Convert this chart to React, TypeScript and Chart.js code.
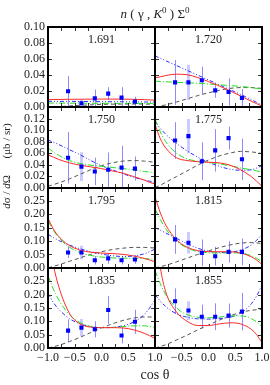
import React, { useEffect, useRef } from 'react';
import { Chart, registerables } from 'chart.js';

Chart.register(...registerables);

const FONT = '"Liberation Serif", "Times New Roman", serif';

// angular bins (cos theta) of the data points
const cosBins = [-0.625, -0.375, -0.125, 0.125, 0.375, 0.625];
// abscissae of the model curves
const curveX = [-1, -0.9, -0.8, -0.6, -0.4, -0.2, 0, 0.2, 0.4, 0.6, 0.8, 0.9, 1];
// y-axis range/step per row
const rowMax = [0.1, 0.14, 0.3, 0.3];
const rowStep = [0.02, 0.02, 0.05, 0.05];
const energies = ['1.691', '1.720', '1.750', '1.775', '1.795', '1.815', '1.835', '1.855'];

// ---- W = 1.691
const pts1691 = [0.02, 0.005, 0.011, 0.017, 0.012, 0.007];
const err1691 = [0.019, 0.005, 0.011, 0.008, 0.013, 0.006];
const red1691 = [0.0095, 0.0096, 0.0097, 0.0099, 0.01, 0.0101, 0.0102, 0.0102, 0.0101, 0.0099, 0.0095, 0.0092, 0.0088];
const green1691 = [0.0052, 0.0052, 0.0052, 0.0051, 0.0051, 0.005, 0.005, 0.005, 0.0049, 0.0049, 0.0048, 0.0048, 0.0047];
const blue1691 = [0.0074, 0.0074, 0.0073, 0.0073, 0.0072, 0.0071, 0.007, 0.0069, 0.0068, 0.0067, 0.0066, 0.0065, 0.0064];
const black1691 = [0.0, 0.0004, 0.0008, 0.0016, 0.0024, 0.003, 0.0035, 0.0038, 0.004, 0.004, 0.0039, 0.0038, 0.0037];

// ---- W = 1.720
const pts1720 = [0.031, 0.031, 0.0336, 0.021, 0.019, 0.0117];
const err1720 = [0.028, 0.022, 0.017, 0.009, 0.017, 0.011];
const red1720 = [0.0365, 0.038, 0.0395, 0.0412, 0.0405, 0.037, 0.032, 0.0265, 0.0205, 0.014, 0.0075, 0.0045, 0.0015];
const green1720 = [0.0325, 0.032, 0.0318, 0.031, 0.0305, 0.03, 0.029, 0.028, 0.027, 0.026, 0.0245, 0.0235, 0.0225];
const blue1720 = [0.064, 0.061, 0.058, 0.052, 0.046, 0.04, 0.034, 0.028, 0.022, 0.016, 0.0095, 0.006, 0.003];
const black1720 = [0.0, 0.0015, 0.003, 0.0065, 0.0105, 0.0145, 0.018, 0.021, 0.0235, 0.0245, 0.0245, 0.024, 0.0235];

// ---- W = 1.750
const pts1750 = [0.052, 0.0365, 0.028, 0.031, 0.0347, 0.033];
const err1750 = [0.045, 0.025, 0.024, 0.03, 0.038, 0.021];
const red1750 = [0.057, 0.053, 0.049, 0.043, 0.039, 0.036, 0.033, 0.029, 0.025, 0.019, 0.013, 0.009, 0.006];
const green1750 = [0.069, 0.062, 0.056, 0.047, 0.042, 0.039, 0.037, 0.035, 0.033, 0.031, 0.028, 0.027, 0.025];
const blue1750 = [0.083, 0.079, 0.075, 0.066, 0.057, 0.047, 0.038, 0.031, 0.024, 0.018, 0.013, 0.011, 0.009];
const black1750 = [0.002, 0.005, 0.008, 0.015, 0.023, 0.031, 0.038, 0.043, 0.046, 0.047, 0.046, 0.045, 0.044];

// ---- W = 1.775
const pts1775 = [0.082, 0.0897, 0.0457, 0.0648, 0.0862, 0.0492];
const err1775 = [0.032, 0.03, 0.033, 0.037, 0.02, 0.036];
const red1775 = [0.11, 0.085, 0.069, 0.052, 0.047, 0.045, 0.044, 0.043, 0.039, 0.031, 0.019, 0.011, 0.002];
const green1775 = [0.12, 0.097, 0.08, 0.06, 0.05, 0.046, 0.044, 0.041, 0.038, 0.034, 0.031, 0.029, 0.027];
const blue1775 = [0.115, 0.103, 0.093, 0.077, 0.064, 0.053, 0.044, 0.037, 0.032, 0.03, 0.031, 0.034, 0.038];
const black1775 = [0.0, 0.004, 0.009, 0.019, 0.029, 0.039, 0.048, 0.055, 0.06, 0.063, 0.062, 0.061, 0.059];

// ---- W = 1.795
const pts1795 = [0.057, 0.057, 0.028, 0.035, 0.028, 0.031];
const err1795 = [0.021, 0.025, 0.016, 0.02, 0.016, 0.016];
const red1795 = [0.185, 0.145, 0.117, 0.083, 0.066, 0.058, 0.055, 0.053, 0.05, 0.044, 0.035, 0.029, 0.022];
const green1795 = [0.175, 0.14, 0.113, 0.077, 0.057, 0.046, 0.04, 0.037, 0.036, 0.035, 0.034, 0.033, 0.032];
const blue1795 = [0.125, 0.113, 0.102, 0.085, 0.071, 0.06, 0.051, 0.045, 0.042, 0.044, 0.052, 0.06, 0.07];
const black1795 = [0.0, 0.005, 0.011, 0.024, 0.037, 0.05, 0.06, 0.068, 0.073, 0.076, 0.076, 0.075, 0.074];

// ---- W = 1.815
const pts1815 = [0.106, 0.0935, 0.0557, 0.043, 0.0594, 0.0594];
const err1815 = [0.054, 0.04, 0.05, 0.035, 0.04, 0.05];
const red1815 = [0.265, 0.205, 0.16, 0.105, 0.077, 0.064, 0.06, 0.06, 0.06, 0.055, 0.041, 0.029, 0.012];
const green1815 = [0.22, 0.18, 0.146, 0.1, 0.074, 0.061, 0.056, 0.055, 0.056, 0.055, 0.045, 0.035, 0.022];
const blue1815 = [0.15, 0.14, 0.13, 0.11, 0.09, 0.073, 0.062, 0.057, 0.058, 0.066, 0.085, 0.103, 0.125];
const black1815 = [0.0, 0.004, 0.009, 0.022, 0.036, 0.05, 0.063, 0.075, 0.085, 0.092, 0.094, 0.093, 0.09];

// ---- W = 1.835
const pts1835 = [0.065, 0.076, 0.07, 0.142, 0.047, 0.098];
const err1835 = [0.042, 0.032, 0.03, 0.052, 0.03, 0.045];
const red1835 = [0.42, 0.31, 0.23, 0.13, 0.09, 0.078, 0.076, 0.076, 0.075, 0.068, 0.055, 0.046, 0.036];
const green1835 = [0.27, 0.22, 0.18, 0.125, 0.095, 0.08, 0.076, 0.077, 0.08, 0.083, 0.083, 0.08, 0.077];
const blue1835 = [0.205, 0.17, 0.145, 0.11, 0.09, 0.08, 0.076, 0.077, 0.083, 0.097, 0.125, 0.15, 0.18];
const black1835 = [0.0, 0.005, 0.01, 0.024, 0.04, 0.058, 0.075, 0.09, 0.103, 0.112, 0.116, 0.116, 0.115];

// ---- W = 1.855
const pts1855 = [0.175, 0.14, 0.117, 0.117, 0.121, 0.136];
const err1855 = [0.048, 0.035, 0.045, 0.05, 0.045, 0.07];
const red1855 = [0.45, 0.3, 0.21, 0.135, 0.1, 0.084, 0.084, 0.09, 0.094, 0.09, 0.07, 0.05, 0.02];
const green1855 = [0.29, 0.24, 0.2, 0.15, 0.125, 0.115, 0.113, 0.115, 0.12, 0.12, 0.11, 0.097, 0.08];
const blue1855 = [0.2, 0.175, 0.155, 0.128, 0.115, 0.109, 0.108, 0.11, 0.115, 0.13, 0.165, 0.195, 0.235];
const black1855 = [0.0, 0.006, 0.012, 0.03, 0.048, 0.068, 0.086, 0.104, 0.12, 0.133, 0.141, 0.143, 0.144];

const panelData = [
  { pts: pts1691, err: err1691, red: red1691, green: green1691, blue: blue1691, black: black1691 },
  { pts: pts1720, err: err1720, red: red1720, green: green1720, blue: blue1720, black: black1720 },
  { pts: pts1750, err: err1750, red: red1750, green: green1750, blue: blue1750, black: black1750 },
  { pts: pts1775, err: err1775, red: red1775, green: green1775, blue: blue1775, black: black1775 },
  { pts: pts1795, err: err1795, red: red1795, green: green1795, blue: blue1795, black: black1795 },
  { pts: pts1815, err: err1815, red: red1815, green: green1815, blue: blue1815, black: black1815 },
  { pts: pts1835, err: err1835, red: red1835, green: green1835, blue: blue1835, black: black1835 },
  { pts: pts1855, err: err1855, red: red1855, green: green1855, blue: blue1855, black: black1855 },
];

type Run = { t: string; it?: boolean; sup?: boolean };

function drawRuns(ctx: CanvasRenderingContext2D, runs: Run[], cx: number, y: number, size: number) {
  const fontFor = (r: Run) => `${r.it ? 'italic ' : ''}${r.sup ? Math.round(size * 0.68) : size}px ${FONT}`;
  let total = 0;
  runs.forEach((r) => { ctx.font = fontFor(r); total += ctx.measureText(r.t).width; });
  let x = cx - total / 2;
  ctx.textAlign = 'left';
  ctx.textBaseline = 'alphabetic';
  runs.forEach((r) => {
    ctx.font = fontFor(r);
    ctx.fillText(r.t, x, r.sup ? y - size * 0.42 : y);
    x += ctx.measureText(r.t).width;
  });
}

const decoPlugin = {
  id: 'deco',
  beforeDatasetsDraw(chart: any) {
    const ctx: CanvasRenderingContext2D = chart.ctx;
    panelData.forEach((p, i) => {
      const xs = chart.scales[`x${i % 2}`];
      const ys = chart.scales[`y${Math.floor(i / 2)}`];
      ctx.save();
      ctx.beginPath();
      ctx.rect(xs.left, ys.top, xs.right - xs.left, ys.bottom - ys.top);
      ctx.clip();
      p.pts.forEach((v, k) => {
        const px = Math.round(xs.getPixelForValue(cosBins[k])) + 0.5;
        const y1 = ys.getPixelForValue(v + p.err[k]);
        const y2 = ys.getPixelForValue(Math.max(0, v - p.err[k]));
        if (k === 1) {
          ctx.strokeStyle = 'rgba(160,160,255,0.55)';
          ctx.lineWidth = 3;
        } else {
          ctx.strokeStyle = '#8c8cff';
          ctx.lineWidth = 1;
        }
        ctx.beginPath();
        ctx.moveTo(px, y1);
        ctx.lineTo(px, y2);
        ctx.stroke();
      });
      ctx.restore();
    });
  },
  afterDatasetsDraw(chart: any) {
    const ctx: CanvasRenderingContext2D = chart.ctx;
    ctx.save();
    for (let r = 0; r < 4; r++) {
      for (let c = 0; c < 2; c++) {
        const xs = chart.scales[`x${c}`];
        const ys = chart.scales[`y${r}`];
        const L = Math.round(xs.left), R = Math.round(xs.right);
        const T = Math.round(ys.top), B = Math.round(ys.bottom);
        // inward ticks
        ctx.strokeStyle = '#333';
        ctx.lineWidth = 1;
        ctx.beginPath();
        for (let v = -0.75; v < 0.99; v += 0.25) {
          const px = Math.round(xs.getPixelForValue(v)) + 0.5;
          ctx.moveTo(px, B); ctx.lineTo(px, B - 4);
          ctx.moveTo(px, T); ctx.lineTo(px, T + 4);
        }
        const step = rowStep[r];
        const n = Math.round(rowMax[r] / step);
        for (let k = 1; k < n; k++) {
          const py = Math.round(ys.getPixelForValue(k * step)) + 0.5;
          ctx.moveTo(L, py); ctx.lineTo(L + 4, py);
          ctx.moveTo(R, py); ctx.lineTo(R - 4, py);
        }
        ctx.stroke();
        // frame
        ctx.strokeStyle = '#000';
        ctx.lineWidth = 2;
        ctx.strokeRect(L, T, R - L, B - T);
      }
    }
    ctx.restore();
  },
  afterDraw(chart: any) {
    const ctx: CanvasRenderingContext2D = chart.ctx;
    ctx.save();
    ctx.fillStyle = '#222';
    // energy labels
    energies.forEach((e, i) => {
      const xs = chart.scales[`x${i % 2}`];
      const ys = chart.scales[`y${Math.floor(i / 2)}`];
      ctx.font = `12px ${FONT}`;
      ctx.textAlign = 'center';
      ctx.textBaseline = 'middle';
      ctx.fillText(e, (xs.left + xs.right) / 2, ys.top + 13);
    });
    const area = chart.chartArea;
    const cx = (area.left + area.right) / 2;
    // title
    drawRuns(ctx, [
      { t: 'n', it: true }, { t: ' ( γ , ' }, { t: 'K', it: true }, { t: '0', sup: true },
      { t: ' ) Σ' }, { t: '0', sup: true },
    ], cx, 18, 13);
    // x title
    drawRuns(ctx, [{ t: 'cos θ' }], cx, 379, 14);
    // y title (rotated)
    ctx.translate(10, 166);
    ctx.rotate(-Math.PI / 2);
    drawRuns(ctx, [
      { t: 'd', it: true }, { t: 'σ / ' }, { t: 'd', it: true }, { t: 'Ω      (μb / sr)' },
    ], 0, 0, 11);
    ctx.restore();
  },
};

export default function App() {
  const ref = useRef<HTMLCanvasElement>(null);
  useEffect(() => {
    const canvas = ref.current;
    if (!canvas) return;
    const datasets: any[] = [];
    panelData.forEach((p, i) => {
      const xa = `x${i % 2}`;
      const ya = `y${Math.floor(i / 2)}`;
      datasets.push({
        data: p.pts.map((v, k) => ({ x: cosBins[k], y: v })),
        xAxisID: xa, yAxisID: ya,
        showLine: false,
        pointStyle: 'rect', pointRadius: 2.9, pointHoverRadius: 2.9,
        backgroundColor: '#0000ff', borderColor: '#0000ff', borderWidth: 0,
        order: 0,
      });
      const curves = [
        { d: p.red, color: '#ff2a2a', dash: [] as number[] },
        { d: p.green, color: '#20e020', dash: [6, 2, 1, 2] },
        { d: p.blue, color: '#3030ff', dash: [4, 2, 1, 2, 1, 2] },
        { d: p.black, color: '#555555', dash: [4, 3] },
      ];
      curves.forEach((c) => {
        datasets.push({
          data: c.d.map((v, k) => ({ x: curveX[k], y: v })),
          xAxisID: xa, yAxisID: ya,
          showLine: true, fill: false,
          borderColor: c.color, borderWidth: 1, borderDash: c.dash,
          pointRadius: 0, pointHoverRadius: 0,
          cubicInterpolationMode: 'monotone',
          order: 1,
        });
      });
    });

    const scales: any = {};
    for (let r = 3; r >= 0; r--) {
      scales[`y${r}`] = {
        type: 'linear', position: 'left', stack: 'rows', stackWeight: 1,
        min: 0, max: rowMax[r],
        grid: { display: false, drawTicks: false },
        border: { display: false },
        ticks: {
          stepSize: rowStep[r], padding: 3, autoSkip: false, color: '#222',
          font: { family: FONT, size: 12 },
          callback: (v: number) => (r > 0 && Math.abs(v - rowMax[r]) < 1e-9 ? '' : Number(v).toFixed(2)),
        },
        afterFit: (s: any) => { s.width = 48; s.paddingTop = 0; s.paddingBottom = 0; },
      };
    }
    for (let c = 0; c < 2; c++) {
      scales[`x${c}`] = {
        type: 'linear', position: 'bottom', stack: 'cols', stackWeight: 1,
        min: -1, max: 1,
        grid: { display: false, drawTicks: false },
        border: { display: false },
        ticks: {
          stepSize: 0.5, padding: 3, autoSkip: false, maxRotation: 0, minRotation: 0, color: '#222',
          font: { family: FONT, size: 12 },
          callback: (v: number) => {
            if (c === 1 && v <= -0.999) return '';
            return v < 0 ? '\u2212' + Math.abs(v).toFixed(1) : Number(v).toFixed(1);
          },
        },
        afterFit: (s: any) => { s.height = 18; s.paddingLeft = 0; s.paddingRight = 0; },
      };
    }

    const chart = new Chart(canvas, {
      type: 'scatter',
      data: { datasets },
      options: {
        animation: false,
        responsive: false,
        maintainAspectRatio: false,
        layout: { padding: { top: 27, right: 8, bottom: 19, left: 0 } },
        plugins: { legend: { display: false }, title: { display: false }, tooltip: { enabled: false } },
        events: [],
        scales,
      },
      plugins: [decoPlugin],
    } as any);
    return () => chart.destroy();
  }, []);

  return (
    <div style={{ position: 'absolute', left: 0, top: 0, width: 270, height: 385, background: '#fff' }}>
      <canvas ref={ref} width={270} height={385} style={{ width: 270, height: 385, display: 'block' }} />
    </div>
  );
}
